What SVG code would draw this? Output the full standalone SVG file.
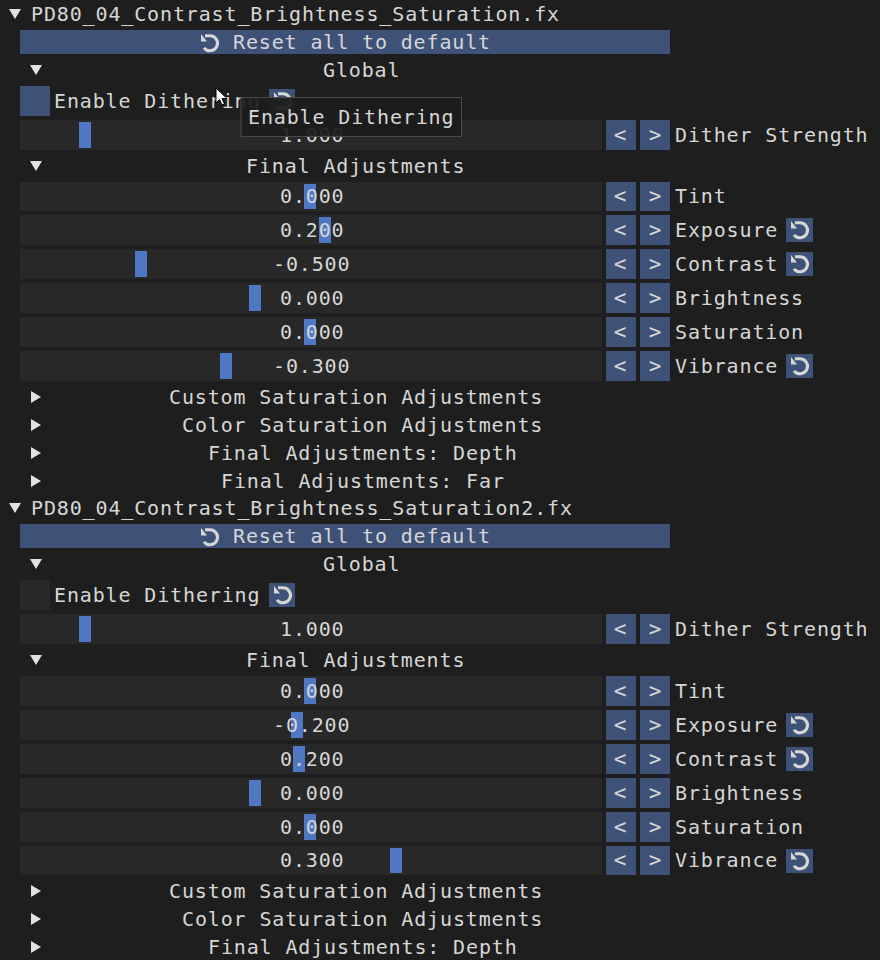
<svg xmlns="http://www.w3.org/2000/svg" xmlns:xlink="http://www.w3.org/1999/xlink" width="880" height="960" viewBox="0 0 880 960">
<style>
text{font-family:"DejaVu Sans Mono","Liberation Mono",monospace;font-size:20px;letter-spacing:.86px;fill:#d6d6d6}
.b{fill:#3e5278}.s{fill:#282828}.g{fill:#4f78c4}.t{fill:#e2e2e2}
.ar{font-size:21px;letter-spacing:0;text-anchor:middle}
</style>
<defs>
<g id="ic"><path d="M-5,-7.200H0A7.500,7.500 0 1 1 -6,4.800" fill="none" stroke="#d6d6d6" stroke-width="3"/><path d="M-9,-9V-1.500H-3Z" fill="#d6d6d6"/></g>
<g id="bt"><rect class="b" x="606" y="0" width="30" height="30"/><rect class="b" x="640" y="0" width="30" height="30"/><text class="ar" x="620" y="22">&lt;</text><text class="ar" x="655" y="22">&gt;</text></g>
<g id="bts"><rect class="b" x="606" y="0" width="30" height="29"/><rect class="b" x="640" y="0" width="30" height="29"/><text class="ar" x="620" y="21">&lt;</text><text class="ar" x="655" y="21">&gt;</text></g>
<g id="rb"><rect class="b" x="786" y="3" width="27" height="24"/><use href="#ic" x="800" y="15"/></g>
<path id="down" class="t" d="M0,0H12L6,10Z"/>
<path id="right" class="t" d="M0,0L10,6L0,12Z"/>
</defs>
<rect width="880" height="960" fill="#1e1e1e"/>
<g id="panel1">
<use href="#down" x="9" y="9"/><text x="31" y="21">PD80_04_Contrast_Brightness_Saturation.fx</text>
<g id="reset1"><rect class="b" x="20" y="30" width="650" height="24"/><use href="#ic" x="210" y="43"/><text x="233" y="49">Reset all to default</text></g>
<use href="#down" x="30" y="65"/><text x="323" y="77">Global</text>
<g id="check1"><rect class="b" x="20" y="86" width="30" height="30"/><text x="54" y="108">Enable Dithering</text><rect class="b" x="269" y="89" width="26" height="24"/><use href="#ic" x="283" y="101"/></g>
<g id="dither1"><rect class="s" x="20" y="120" width="582" height="30"/><rect class="g" x="79" y="122" width="12" height="26"/><text x="280" y="142">1.000</text><use href="#bt" y="120"/><text x="675" y="142">Dither Strength</text></g>
<use href="#down" x="30" y="161"/><text x="246" y="173">Final Adjustments</text>
<g id="tint1"><rect class="s" x="20" y="182" width="582" height="29"/><rect class="g" x="304" y="184" width="12" height="25"/><text x="280" y="203">0.000</text><use href="#bts" y="182"/><text x="675" y="203">Tint</text></g>
<g id="exposure1"><rect class="s" x="20" y="215" width="582" height="30"/><rect class="g" x="319" y="217" width="12" height="26"/><text x="280" y="237">0.200</text><use href="#bt" y="215"/><text x="675" y="237">Exposure</text><use href="#rb" y="215"/></g>
<g id="contrast1"><rect class="s" x="20" y="249" width="582" height="30"/><rect class="g" x="135" y="251" width="12" height="26"/><text x="273" y="271">-0.500</text><use href="#bt" y="249"/><text x="675" y="271">Contrast</text><use href="#rb" y="249"/></g>
<g id="brightness1"><rect class="s" x="20" y="283" width="582" height="30"/><rect class="g" x="249" y="285" width="12" height="26"/><text x="280" y="305">0.000</text><use href="#bt" y="283"/><text x="675" y="305">Brightness</text></g>
<g id="saturation1"><rect class="s" x="20" y="317" width="582" height="30"/><rect class="g" x="304" y="319" width="12" height="26"/><text x="280" y="339">0.000</text><use href="#bt" y="317"/><text x="675" y="339">Saturation</text></g>
<g id="vibrance1"><rect class="s" x="20" y="351" width="582" height="30"/><rect class="g" x="220" y="353" width="12" height="26"/><text x="273" y="373">-0.300</text><use href="#bt" y="351"/><text x="675" y="373">Vibrance</text><use href="#rb" y="351"/></g>
<use href="#right" x="31" y="391"/><text x="169" y="404">Custom Saturation Adjustments</text>
<use href="#right" x="31" y="419"/><text x="182" y="432">Color Saturation Adjustments</text>
<use href="#right" x="31" y="447"/><text x="208" y="460">Final Adjustments: Depth</text>
<use href="#right" x="31" y="475"/><text x="221" y="488">Final Adjustments: Far</text>
</g>
<g id="panel2">
<use href="#down" x="9" y="503"/><text x="31" y="515">PD80_04_Contrast_Brightness_Saturation2.fx</text>
<g id="reset2"><rect class="b" x="20" y="524" width="650" height="24"/><use href="#ic" x="210" y="537"/><text x="233" y="543">Reset all to default</text></g>
<use href="#down" x="30" y="559"/><text x="323" y="571">Global</text>
<g id="check2"><rect class="s" x="20" y="580" width="30" height="30"/><text x="54" y="602">Enable Dithering</text><rect class="b" x="269" y="583" width="26" height="24"/><use href="#ic" x="283" y="595"/></g>
<g id="dither2"><rect class="s" x="20" y="614" width="582" height="30"/><rect class="g" x="79" y="616" width="12" height="26"/><text x="280" y="636">1.000</text><use href="#bt" y="614"/><text x="675" y="636">Dither Strength</text></g>
<use href="#down" x="30" y="655"/><text x="246" y="667">Final Adjustments</text>
<g id="tint2"><rect class="s" x="20" y="676" width="582" height="30"/><rect class="g" x="304" y="678" width="12" height="26"/><text x="280" y="698">0.000</text><use href="#bt" y="676"/><text x="675" y="698">Tint</text></g>
<g id="exposure2"><rect class="s" x="20" y="710" width="582" height="30"/><rect class="g" x="291" y="712" width="12" height="26"/><text x="273" y="732">-0.200</text><use href="#bt" y="710"/><text x="675" y="732">Exposure</text><use href="#rb" y="710"/></g>
<g id="contrast2"><rect class="s" x="20" y="744" width="582" height="30"/><rect class="g" x="293" y="746" width="12" height="26"/><text x="280" y="766">0.200</text><use href="#bt" y="744"/><text x="675" y="766">Contrast</text><use href="#rb" y="744"/></g>
<g id="brightness2"><rect class="s" x="20" y="778" width="582" height="30"/><rect class="g" x="249" y="780" width="12" height="26"/><text x="280" y="800">0.000</text><use href="#bt" y="778"/><text x="675" y="800">Brightness</text></g>
<g id="saturation2"><rect class="s" x="20" y="812" width="582" height="30"/><rect class="g" x="304" y="814" width="12" height="26"/><text x="280" y="834">0.000</text><use href="#bt" y="812"/><text x="675" y="834">Saturation</text></g>
<g id="vibrance2"><rect class="s" x="20" y="846" width="582" height="29"/><rect class="g" x="390" y="848" width="12" height="25"/><text x="280" y="867">0.300</text><use href="#bts" y="846"/><text x="675" y="867">Vibrance</text><use href="#rb" y="846"/></g>
<use href="#right" x="31" y="885"/><text x="169" y="898">Custom Saturation Adjustments</text>
<use href="#right" x="31" y="913"/><text x="182" y="926">Color Saturation Adjustments</text>
<use href="#right" x="31" y="941"/><text x="208" y="954">Final Adjustments: Depth</text>
</g>
<g id="tooltip"><rect x="241" y="97.500" width="220.500" height="39" fill="#1c1c1c" fill-opacity=".93" stroke="#4a4a4a"/><text x="248" y="124">Enable Dithering</text></g>
<path id="cursor" d="M216,88V103L219.500,99.500L222,105L224.500,104L222,98.500H227Z" fill="#fff" stroke="#000"/>
</svg>
